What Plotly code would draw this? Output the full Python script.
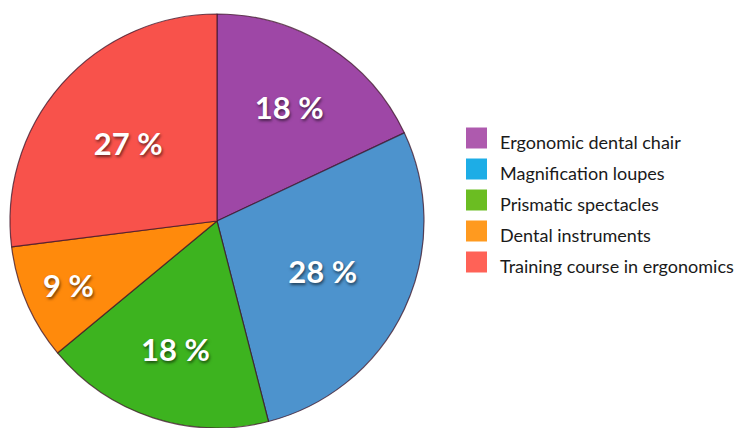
import plotly.graph_objects as go

# Survey answers: preferred ergonomic aid (percent of respondents)
categories = [
    "Ergonomic dental chair",
    "Magnification loupes",
    "Prismatic spectacles",
    "Dental instruments",
    "Training course in ergonomics",
]
shares = [18, 28, 18, 9, 27]

slice_colors = ["#9E47A6", "#4D93CD", "#3DB31F", "#FF8A0C", "#F8524B"]
legend_colors = ["#AE5AAE", "#1DADE6", "#6BBD22", "#FF9A1F", "#FF6257"]

W, H = 741, 428
cx, cy, r = 217, 221, 207  # pie centre / radius in pixels

fig = go.Figure()
fig.add_trace(go.Pie(
    labels=categories,
    values=shares,
    sort=False,
    direction="clockwise",
    rotation=0,
    marker=dict(colors=slice_colors, line=dict(color="rgba(60,20,40,0.75)", width=1.2)),
    texttemplate="%{value} %",
    textposition="inside",
    insidetextorientation="horizontal",
    textfont=dict(
        family="Lato, Roboto, sans-serif",
        size=31, color="white", weight="bold",
        shadow="1px 2px 3px rgba(0,0,0,0.55)",
    ),
    showlegend=False,
    hoverinfo="label+value",
    domain=dict(
        x=[(cx - r) / W, (cx + r) / W],
        y=[max(0, 1 - (cy + r) / H), 1 - (cy - r) / H],
    ),
))

# Legend: coloured squares with labels
sw_x0, sw_size, row0, row_step, text_x = 466, 21, 138, 31, 498
for i, (name, col) in enumerate(zip(categories, legend_colors)):
    yc = row0 + i * row_step
    fig.add_shape(
        type="rect", xref="paper", yref="paper",
        x0=sw_x0 / W, x1=(sw_x0 + sw_size) / W,
        y0=1 - (yc + sw_size / 2) / H, y1=1 - (yc - sw_size / 2) / H,
        fillcolor=col, line=dict(width=0),
    )
    fig.add_annotation(
        x=text_x / W, y=1 - (yc + 4) / H, xref="paper", yref="paper",
        text=name, showarrow=False, xanchor="left", yanchor="middle",
        font=dict(family="Lato, sans-serif", size=18, color="#1a1a1a"),
    )

fig.update_layout(
    width=W, height=H,
    margin=dict(l=0, r=0, t=0, b=0),
    paper_bgcolor="white",
    plot_bgcolor="white",
)

fig.write_html("out.html")
